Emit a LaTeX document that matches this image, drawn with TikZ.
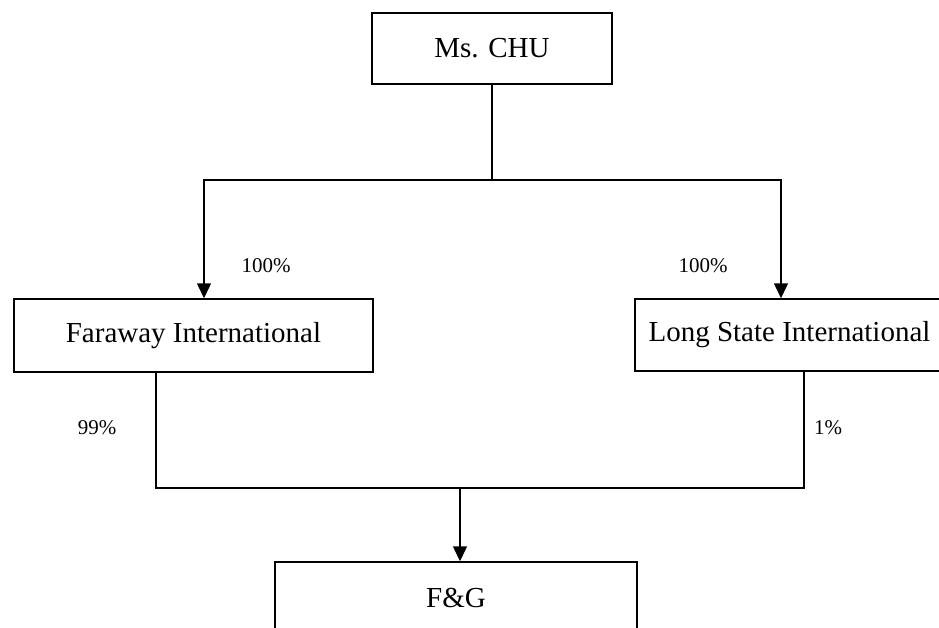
\documentclass[tikz,border=0pt]{standalone}
\usepackage{fontspec}
\setmainfont{Liberation Serif}
\usetikzlibrary{arrows.meta}

\begin{document}
\begin{tikzpicture}[x=1pt, y=-1pt, line width=1.5pt,
        entity/.style={draw, inner sep=0pt, font=\fontsize{29}{34}\selectfont},
        share/.style={inner sep=0pt, font=\fontsize{21}{25}\selectfont},
        arr/.style={-{Triangle[length=15pt,width=14pt]}}]
        \path[use as bounding box, clip] (0,0) rectangle (939,628);
        % boxes
        \node[entity, minimum width=240pt, minimum height=71pt] (chu) at (492,48.5) {Ms. CHU};
        \node[entity, minimum width=359pt, minimum height=73pt] (faraway) at (193.5,335.5) {Faraway International};
        \node[entity, minimum width=309pt, minimum height=72pt] (longstate) at (789.5,335) {Long State International};
        \node[entity, minimum width=362pt, minimum height=72pt] (fg) at (456,598) {F\&G};
        % junctions
        \coordinate (jtop) at (492,180);
        \coordinate (jbot) at (460,488);
        \draw (chu.south) -- (jtop);
        \draw[arr] (jtop) -| ([xshift=10.5pt]faraway.north);
        \draw[arr] (jtop) -| ([xshift=-8.5pt]longstate.north);
        \draw ([xshift=-37.5pt]faraway.south) |- (jbot) -| ([xshift=14.5pt]longstate.south);
        \draw[arr] (jbot) -- ([xshift=4pt]fg.north);
        % percentages
        \node[share] (pfaraway) at (266,266) {100\%};
        \node[share] (plongstate) at (703,266) {100\%};
        \node[share] (pfgleft) at (97,428) {99\%};
        \node[share] (pfgright) at (828,428) {1\%};
    \end{tikzpicture}
\end{document}
